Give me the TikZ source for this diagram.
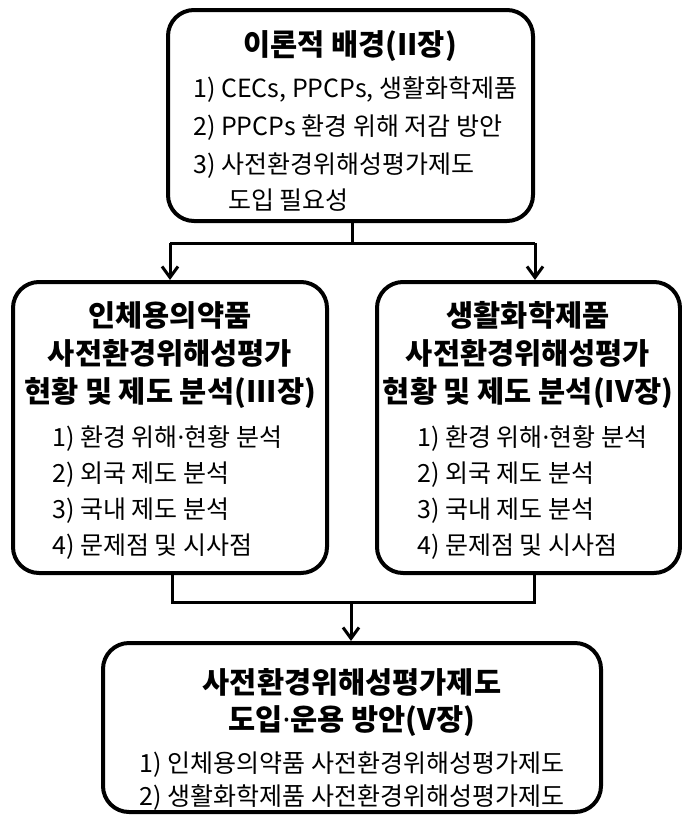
\documentclass[tikz,border=0pt]{standalone}
\usepackage{fontspec}
\setmainfont{Noto Sans CJK KR}
\newfontfamily\latinfont{Noto Sans}
\usetikzlibrary{arrows.meta}

\newcommand{\ttlfont}{\fontsize{29.5}{35}\selectfont\bfseries}
\newcommand{\itmfont}{\fontsize{25}{30}\selectfont}
% narrow middle dot between Korean words
\newcommand{\mdot}{{\latinfont ·}}

\tikzset{
  box/.style={draw, line width=4pt, rounded corners=26pt, inner sep=0pt},
  ttl/.style={font=\ttlfont, anchor=base, inner sep=0pt},
  itm/.style={font=\itmfont, anchor=base west, inner sep=0pt},
  itmc/.style={font=\itmfont, anchor=base, inner sep=0pt},
  conn/.style={line width=3pt},
  arr/.style={conn, -{Straight Barb[length=11pt,width=16pt,line width=3pt]}}
}

\begin{document}
\begin{tikzpicture}[x=1pt,y=-1pt]
\useasboundingbox (0,0) rectangle (682,815);

% boxes
\node[box, minimum width=365pt, minimum height=211pt] (top) at (350.5,115.5) {};
\node[box, minimum width=314pt, minimum height=291pt] (left) at (170,427.5) {};
\node[box, minimum width=303pt, minimum height=291pt] (right) at (528.5,427.5) {};
\node[box, minimum width=498pt, minimum height=169pt] (bottom) at (352,727.5) {};

% theory box
\node[ttl] (t0) at (350,55) {이론적 배경(II장)};
\node[itm] (t1) at (193,97) {1) CECs, PPCPs, 생활화학제품};
\node[itm] (t2) at (193,135) {2) PPCPs 환경 위해 저감 방안};
\node[itm] (t3) at (193,173) {3) 사전환경위해성평가제도};
\node[itm] (t4) at (228,209) {도입 필요성};

% pharmaceuticals box
\node[ttl] (l0) at (170,326) {인체용의약품};
\node[ttl] (l1) at (170,364) {사전환경위해성평가};
\node[ttl] (l2) at (170,402) {현황 및 제도 분석(III장)};
\node[itm] (l3) at (52,446) {1) 환경 위해\mdot 현황 분석};
\node[itm] (l4) at (52,482) {2) 외국 제도 분석};
\node[itm] (l5) at (52,518) {3) 국내 제도 분석};
\node[itm] (l6) at (52,554) {4) 문제점 및 시사점};

% household chemicals box
\node[ttl] (r0) at (528,326) {생활화학제품};
\node[ttl] (r1) at (528,364) {사전환경위해성평가};
\node[ttl] (r2) at (528,402) {현황 및 제도 분석(IV장)};
\node[itm] (r3) at (417,446) {1) 환경 위해\mdot 현황 분석};
\node[itm] (r4) at (417,482) {2) 외국 제도 분석};
\node[itm] (r5) at (417,518) {3) 국내 제도 분석};
\node[itm] (r6) at (417,554) {4) 문제점 및 시사점};

% conclusion box
\node[ttl] (b0) at (352,693) {사전환경위해성평가제도};
\node[ttl] (b1) at (352,730) {도입\mdot 운용 방안(V장)};
\node[itmc] (b2) at (352,772) {1) 인체용의약품 사전환경위해성평가제도};
\node[itmc] (b3) at (352,805) {2) 생활화학제품 사전환경위해성평가제도};

% branching connector
\coordinate (ja) at (352,243);
\coordinate (jl) at (170,243);
\coordinate (jr) at (535,243);
\draw[conn] (top.south -| ja) -- (ja);
\draw[conn] (jl) -- (jr);
\draw[arr] (jl) -- (jl |- left.north);
\draw[arr] (jr) -- (jr |- right.north);

% merging connector
\coordinate (kl) at (172,602);
\coordinate (kr) at (534,602);
\coordinate (km) at (351,602);
\draw[conn] (kl |- left.south) -- (kl) -- (kr) -- (kr |- right.south);
\draw[arr] (km) -- (km |- bottom.north);
\end{tikzpicture}
\end{document}
